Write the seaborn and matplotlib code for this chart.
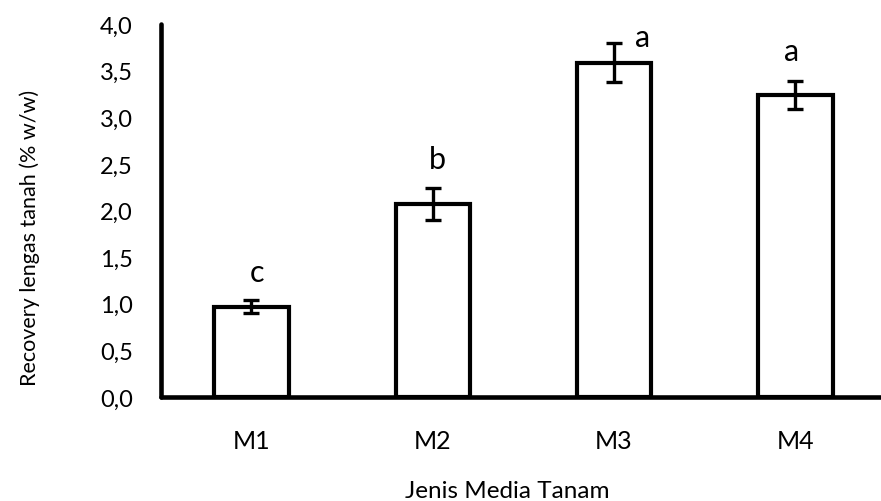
import matplotlib
matplotlib.use("Agg")
import matplotlib.pyplot as plt
import seaborn as sns
import pandas as pd
from matplotlib.ticker import FixedLocator, FuncFormatter

categories = ["M1", "M2", "M3", "M4"]
means = [0.97, 2.07, 3.585, 3.24]
errors = [0.07, 0.17, 0.21, 0.15]
letters = ["c", "b", "a", "a"]
y_ticks = [0.0, 0.5, 1.0, 1.5, 2.0, 2.5, 3.0, 3.5, 4.0]

sns.set_style("white")
plt.rcParams["font.family"] = ["Lato", "DejaVu Sans"]

fig = plt.figure(figsize=(8.81, 5.02), dpi=100)
ax = fig.add_axes([0.1824, 0.2072, 0.8233, 0.743])

df = pd.DataFrame({"media": categories, "value": means})
sns.barplot(data=df, x="media", y="value", order=categories, errorbar=None,
            color="white", edgecolor="black", linewidth=3.0, width=0.41, ax=ax)

xs = [p.get_x() + p.get_width() / 2 for p in ax.patches]
ax.errorbar(xs, means, yerr=errors, fmt="none", ecolor="black",
            elinewidth=2.4, capsize=5.5, capthick=2.4)

letter_dx = [0.03, 0.025, 0.16, -0.02]
letter_dy = [0.30, 0.31, 0.07, 0.32]
for x, m, e, t, dx, dy in zip(xs, means, errors, letters, letter_dx, letter_dy):
    ax.text(x + dx, m + e + dy, t, ha="center", va="center", fontsize=22, color="black")

ax.set_xlim(-0.5, 3.5)
ax.set_ylim(0, 4.0)
ax.yaxis.set_major_locator(FixedLocator(y_ticks))
ax.yaxis.set_major_formatter(FuncFormatter(lambda v, p: f"{v:.1f}".replace(".", ",")))

for s in ["top", "right"]:
    ax.spines[s].set_visible(False)
for s in ["left", "bottom"]:
    ax.spines[s].set_linewidth(3.3)
    ax.spines[s].set_color("black")
    ax.spines[s].set_capstyle("round")

ax.tick_params(axis="y", direction="in", length=6, width=2.5, labelsize=17, pad=20, colors="black")
ax.tick_params(axis="x", which="major", length=0, labelsize=18, pad=23, colors="black")
ax.xaxis.set_minor_locator(FixedLocator([0.5, 1.5, 2.5]))
ax.tick_params(axis="x", which="minor", direction="in", length=6, width=2.5, colors="black")

ax.set_xlabel("Jenis Media Tanam", fontsize=17.5, color="black")
ax.set_ylabel("Recovery lengas tanah (% w/w)", fontsize=15.5, color="black")
ax.xaxis.set_label_coords(0.478, -0.222)
ax.yaxis.set_label_coords(-0.166, 0.43)

fig.savefig("out.png", dpi=100)
